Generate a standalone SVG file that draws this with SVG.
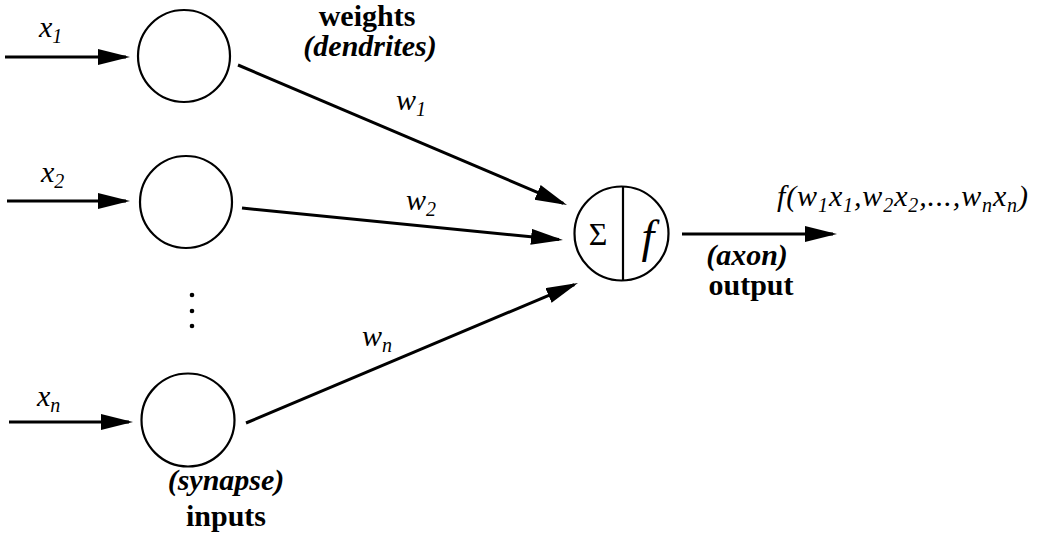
<svg xmlns="http://www.w3.org/2000/svg" width="1037" height="535" viewBox="0 0 1037 535">
<style>
.bg{fill:#fff}
.node{fill:none;stroke:#000;stroke-width:2.2}
.conn{stroke:#000;stroke-width:3;fill:none}
.lab{font-family:"Liberation Serif",serif;font-style:italic;font-size:30px;fill:#000}
.b{font-family:"Liberation Serif",serif;font-weight:bold;font-size:30px;fill:#000;text-anchor:middle}
.bi{font-family:"Liberation Serif",serif;font-weight:bold;font-style:italic;font-size:30px;fill:#000;text-anchor:middle}
.sub{font-size:20px}
</style>
<defs>
<marker id="arr" markerUnits="userSpaceOnUse" markerWidth="34" markerHeight="18" refX="28" refY="8" orient="auto">
<path d="M0,0 L32,8 L0,16 z" fill="#000"/>
</marker>
</defs>
<rect class="bg" x="0" y="0" width="1037" height="535"/>
<g id="connectors">
<line class="conn" x1="5" y1="57" x2="126" y2="57" marker-end="url(#arr)"/>
<line class="conn" x1="7" y1="201" x2="126" y2="201" marker-end="url(#arr)"/>
<line class="conn" x1="9" y1="422" x2="129" y2="422" marker-end="url(#arr)"/>
<line class="conn" x1="238" y1="65" x2="563.3" y2="203.4" marker-end="url(#arr)"/>
<line class="conn" x1="242" y1="208" x2="559" y2="239.6" marker-end="url(#arr)"/>
<line class="conn" x1="246" y1="423" x2="574.3" y2="284.6" marker-end="url(#arr)"/>
<line class="conn" x1="682" y1="234" x2="833" y2="234" marker-end="url(#arr)"/>
</g>
<g id="input1">
<circle class="node" cx="184" cy="56" r="46"/>
<text class="lab" x="39" y="37">x<tspan class="sub" dy="6">1</tspan></text>
</g>
<g id="input2">
<circle class="node" cx="186" cy="202" r="46"/>
<text class="lab" x="41" y="182">x<tspan class="sub" dy="6">2</tspan></text>
</g>
<g id="dots">
<circle cx="192" cy="295" r="2.3" fill="#000"/>
<circle cx="192" cy="311" r="2.3" fill="#000"/>
<circle cx="192" cy="326" r="2.3" fill="#000"/>
</g>
<g id="inputn">
<circle class="node" cx="188" cy="420" r="46.5"/>
<text class="lab" x="37" y="406">x<tspan class="sub" dy="6">n</tspan></text>
</g>
<g id="weightlabels">
<text class="b" x="367" y="26">weights</text>
<text class="bi" x="370" y="56">(dendrites)</text>
<text class="lab" x="396" y="110">w<tspan class="sub" dy="6">1</tspan></text>
<text class="lab" x="406" y="210">w<tspan class="sub" dy="6">2</tspan></text>
<text class="lab" x="362" y="346">w<tspan class="sub" dy="6">n</tspan></text>
</g>
<g id="neuron">
<circle class="node" cx="621.5" cy="233.5" r="47"/>
<line class="node" x1="623" y1="186.5" x2="623" y2="280.5"/>
<text x="598" y="245" style="font-family:'Liberation Serif',serif;font-size:32px;text-anchor:middle">Σ</text>
<text x="648" y="252" style="font-family:'Liberation Serif',serif;font-style:italic;font-size:46px;text-anchor:middle">f</text>
</g>
<g id="output">
<text class="lab" x="777" y="206" textLength="251" lengthAdjust="spacing">f(w<tspan class="sub" dy="6">1</tspan><tspan dy="-6">x</tspan><tspan class="sub" dy="6">1</tspan><tspan dy="-6">,w</tspan><tspan class="sub" dy="6">2</tspan><tspan dy="-6">x</tspan><tspan class="sub" dy="6">2</tspan><tspan dy="-6">,...,w</tspan><tspan class="sub" dy="6">n</tspan><tspan dy="-6">x</tspan><tspan class="sub" dy="6">n</tspan><tspan dy="-6">)</tspan></text>
<text class="bi" x="747" y="265">(axon)</text>
<text class="b" x="751" y="295">output</text>
</g>
<g id="inputlabels">
<text class="bi" x="226" y="490">(synapse)</text>
<text class="b" x="226" y="526">inputs</text>
</g>
</svg>
